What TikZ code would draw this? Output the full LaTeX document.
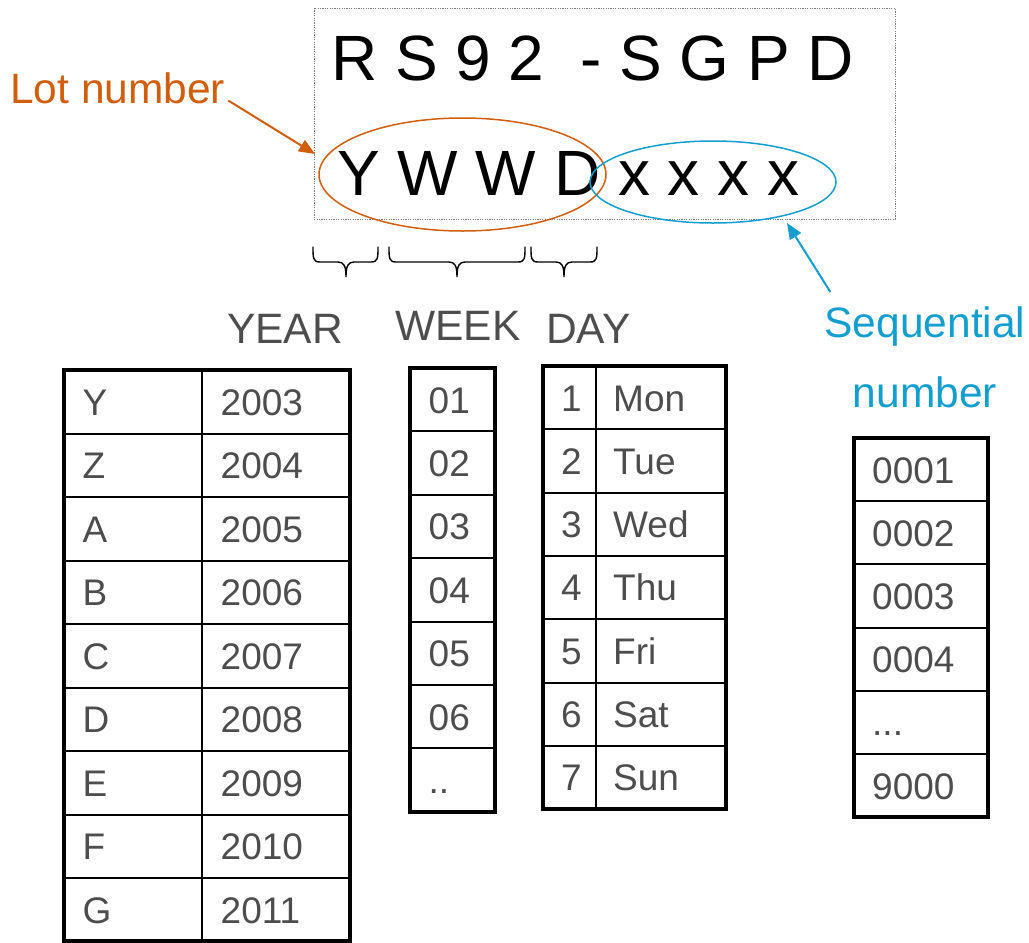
\documentclass[tikz,border=0pt]{standalone}
\usepackage{fontspec}
\setmainfont{Liberation Sans}
\usetikzlibrary{shapes.geometric,arrows.meta}
\definecolor{lotorange}{RGB}{208,94,12}
\definecolor{seqblue}{RGB}{18,158,206}
\definecolor{celltext}{RGB}{77,77,77}
\definecolor{boxgray}{RGB}{120,120,120}
\tikzset{
  bigtext/.style={font=\fontsize{64}{64}\selectfont, text=black, inner sep=0pt, anchor=base west},
  cell/.style={font=\fontsize{37}{37}\selectfont, text=celltext, inner sep=0pt, anchor=base west},
  headtext/.style={font=\fontsize{42.5}{42.5}\selectfont, text=celltext, inner sep=0pt, anchor=base west},
  labeltext/.style={font=\fontsize{42.5}{42.5}\selectfont, inner sep=0pt},
  outerframe/.style={line width=4.5pt},
  innerline/.style={line width=2pt},
  bracepath/.style={line width=1.4pt, line cap=round},
  ring/.style={ellipse, inner sep=0pt, line width=1.5pt},
  pointer/.style={line width=2pt, -{Triangle[length=16pt,width=13pt]}},
}
\newcommand{\mybrace}[3]{%
  \draw[bracepath] (#1,247) .. controls (#1,258) and (#1,262) .. ({#1+7},262)
    -- ({#3-8},262) .. controls ({#3-2},262) and (#3,266) .. (#3,277)
    .. controls (#3,266) and ({#3+2},262) .. ({#3+8},262)
    -- ({#2-7},262) .. controls (#2,262) and (#2,258) .. (#2,247);}
\newcommand{\seqdots}{...}
\newcommand{\weekdots}{..}
\begin{document}
\begin{tikzpicture}[x=1pt,y=-1pt]
\useasboundingbox (0,0) rectangle (1029,943);
% top box
\draw[boxgray, line width=0.8pt, dash pattern=on 1.2pt off 1.2pt] (314,8) rectangle (895,219);
\node[bigtext] (code1) at (331,80) {R S 9 2~ - S G P D};
\node[bigtext] (code2) at (337,195) {Y W W D x x x x};
\node[ring, draw=lotorange, minimum width=287pt, minimum height=113pt] (lotell) at (462.5,174.5) {};
\node[ring, draw=seqblue, minimum width=246pt, minimum height=82pt] (seqell) at (713,182) {};
% labels and arrows
\node[labeltext, text=lotorange, anchor=base west] (lotlabel) at (10,103) {Lot number};
\coordinate (lottip) at (315,154);
\draw[pointer, lotorange] ([xshift=3pt,yshift=3pt]lotlabel.south east) -- (lottip);
\node[labeltext, text=seqblue, anchor=base] (seqlabel) at (925,337) {Sequential};
\node[labeltext, text=seqblue, anchor=base] (seqlabel2) at (925,407) {number};
\coordinate (seqtip) at (787,223);
\draw[pointer, seqblue] ([xshift=6pt,yshift=14pt]seqlabel.north west) -- (seqtip);
% braces
\mybrace{313}{378}{346}
\mybrace{389}{525}{457}
\mybrace{531}{597}{564}
% headers
\node[headtext] (yearhead) at (227,343) {YEAR};
\node[headtext] (weekhead) at (395,340) {WEEK};
\node[headtext] (dayhead) at (546,343) {DAY};
% YEAR table
\foreach \i in {1,...,8} \draw[innerline] (64,{370+63.5*\i}) -- (350,{370+63.5*\i});
\draw[innerline] (202,370) -- (202,941.5);
\draw[outerframe] (64,370) rectangle (350,941.5);
\foreach \l/\v [count=\i from 0] in {Y/2003,Z/2004,A/2005,B/2006,C/2007,D/2008,E/2009,F/2010,G/2011} {
  \node[cell] (yl\i) at (82.5,{370+63.5*\i+45}) {\l};
  \node[cell] (yv\i) at (220.5,{370+63.5*\i+45}) {\v};
}
% WEEK table
\foreach \i in {1,...,6} \draw[innerline] (410,{368+63.4*\i}) -- (495,{368+63.4*\i});
\draw[outerframe] (410,368) rectangle (495,811.8);
\foreach \v [count=\i from 0] in {01,02,03,04,05,06,\weekdots} {
  \node[cell] (wv\i) at (428.5,{368+63.4*\i+45}) {\v};
}
% DAY table
\foreach \i in {1,...,6} \draw[innerline] (543,{366+63.3*\i}) -- (726,{366+63.3*\i});
\draw[innerline] (596,366) -- (596,809.1);
\draw[outerframe] (543,366) rectangle (726,809.1);
\foreach \n/\d [count=\i from 0] in {1/Mon,2/Tue,3/Wed,4/Thu,5/Fri,6/Sat,7/Sun} {
  \node[cell] (dn\i) at (561,{366+63.3*\i+45}) {\n};
  \node[cell] (dd\i) at (613,{366+63.3*\i+45}) {\d};
}
% Sequential table
\foreach \i in {1,...,5} \draw[innerline] (854,{438+63.2*\i}) -- (988,{438+63.2*\i});
\draw[outerframe] (854,438) rectangle (988,817.2);
\foreach \v [count=\i from 0] in {0001,0002,0003,0004,\seqdots,9000} {
  \node[cell] (sv\i) at (872,{438+63.2*\i+45}) {\v};
}
\end{tikzpicture}
\end{document}
